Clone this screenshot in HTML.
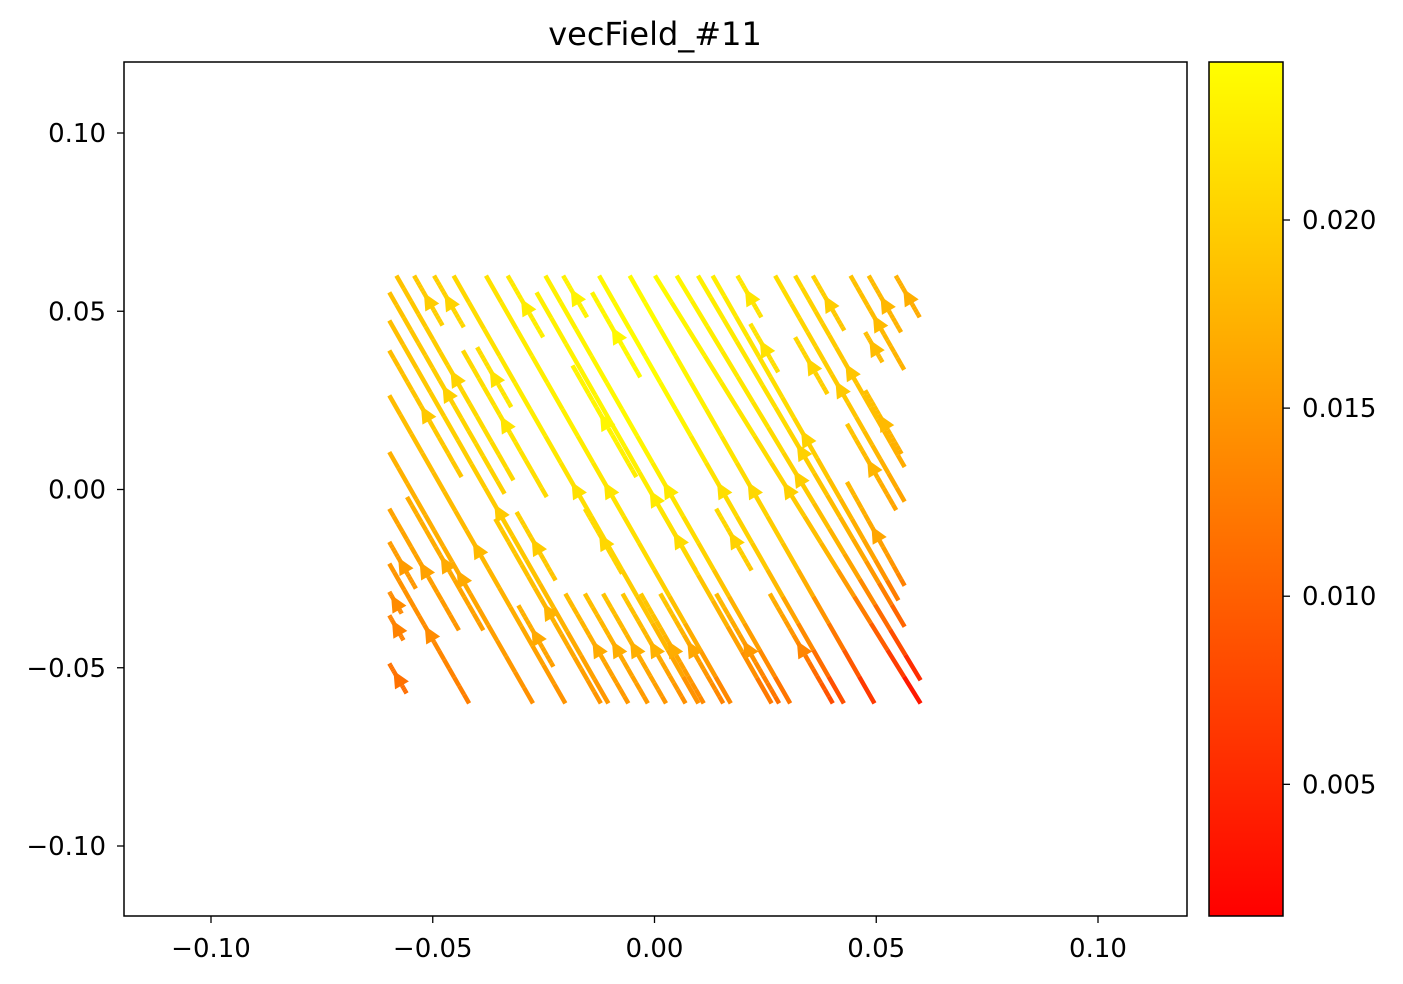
<!DOCTYPE html>
<html><head><meta charset="utf-8"><style>
body{margin:0;background:#fff;}
svg{display:block;font-family:"DejaVu Sans","Liberation Sans",sans-serif;}
</style></head><body>
<svg id="chart" width="1403" height="984" viewBox="0 0 1403 984">
<defs><linearGradient id="cbg" x1="0" y1="1" x2="0" y2="0"><stop offset="0" stop-color="#ff0000"/><stop offset="1" stop-color="#ffff00"/></linearGradient></defs>
<text x="655" y="45" font-size="32" text-anchor="middle">vecField_#11</text>
<g id="lines"></g>
<rect x="124" y="62" width="1063" height="854" fill="none" stroke="#000" stroke-width="1.5"/>
<g id="xaxis"></g>
<g id="yaxis"></g>
<rect x="1209" y="62" width="74" height="854" fill="url(#cbg)" stroke="#000" stroke-width="1.5"/>
<g id="cbaxis"></g>
</svg>
<script>
const xTicks=[-0.10,-0.05,0.00,0.05,0.10];
const xTickLabels=["−0.10","−0.05","0.00","0.05","0.10"];
const yTicks=[0.10,0.05,0.00,-0.05,-0.10];
const yTickLabels=["0.10","0.05","0.00","−0.05","−0.10"];
const cbTicks=[0.020,0.015,0.010,0.005];
const cbTickLabels=["0.020","0.015","0.010","0.005"];
const cbMin=0.0015, cbMax=0.0242;
const lineX0=[-0.0582,-0.0542,-0.0497,-0.0453,-0.0380,-0.0331,-0.0246,-0.0206,-0.0125,-0.0056,0.0001,0.0050,0.0098,0.0131,0.0187,0.0272,0.0317,0.0357,0.0442,0.0483,0.0544,
-0.0598,-0.0598,-0.0598,-0.0598,-0.0598,-0.0598,-0.0598,-0.0598,-0.0598,-0.0598,-0.0598,
-0.0432,-0.0400,-0.0266,-0.0141,-0.0185,0.0216,0.0317,0.0475,0.0475,0.0434,0.0434,-0.0558,-0.0359,-0.0311,-0.0157,0.0013,0.0139,-0.0307,-0.0201,-0.0157,-0.0116,-0.0072,-0.0031,0.0013,0.0139,0.0260];
const lineY0=[0.06,0.06,0.06,0.06,0.06,0.06,0.06,0.06,0.06,0.06,0.06,0.06,0.06,0.06,0.06,0.06,0.06,0.06,0.06,0.06,0.06,
0.0553,0.0474,0.0390,0.0264,0.0105,-0.0054,-0.0147,-0.0208,-0.0287,-0.0353,-0.0488,
0.0390,0.0399,0.0553,0.0553,0.0348,0.0465,0.0427,0.0441,0.0278,0.0184,0.0021,-0.0021,-0.0082,-0.0063,-0.0054,-0.0054,-0.0054,-0.0325,-0.0292,-0.0292,-0.0292,-0.0292,-0.0292,-0.0292,-0.0292,-0.0292];
const lineX1=[-0.0318,-0.0478,-0.0430,0.0099,0.0172,-0.0251,0.0306,-0.0152,0.0427,0.0496,0.0600,0.0600,0.0564,0.0550,0.0241,0.0564,0.0564,0.0428,0.0563,0.0556,0.0598,
-0.0338,-0.0104,-0.0435,-0.0201,-0.0274,-0.0441,-0.0538,-0.0418,-0.0570,-0.0566,-0.0559,
-0.0243,-0.0323,0.0264,-0.0032,-0.0041,0.0279,0.0390,0.0514,0.0557,0.0545,0.0564,-0.0386,-0.0121,-0.0223,-0.0073,0.0093,0.0219,-0.0228,-0.0059,-0.0015,0.0026,0.0070,0.0111,0.0155,0.0281,0.0402];
const lineY1=[0.0026,0.0460,0.0455,-0.06,-0.06,0.0427,-0.06,0.0483,-0.06,-0.06,-0.06,-0.0535,-0.0385,-0.0311,0.0483,-0.0034,0.0063,0.0446,0.0336,0.0441,0.0483,
-0.0012,-0.06,0.0035,-0.06,-0.06,-0.0395,-0.0278,-0.06,-0.0348,-0.0423,-0.0572,
-0.0021,0.0231,-0.06,0.0315,0.0035,0.0329,0.0268,0.0357,0.0100,-0.0058,-0.0270,-0.0395,-0.06,-0.0255,-0.0236,-0.0227,-0.0227,-0.0497,-0.06,-0.06,-0.06,-0.06,-0.06,-0.06,-0.06,-0.06];
const speedRow0=[0.0185,0.0225,0.024,0.021,0.0165];
const speedRow1=[0.018,0.0225,0.024,0.021,0.017];
const speedRow2=[0.015,0.019,0.021,0.019,0.014];
const speedRow3=[0.0105,0.014,0.015,0.011,0.002];
const gridX=[-0.06,-0.03,0,0.03,0.06], gridY=[0.06,0.02,-0.02,-0.06];

const NS='http://www.w3.org/2000/svg';
const X=v=>654.5+v*4435, Y=v=>489.5-v*3565, CB=v=>916-(v-cbMin)/(cbMax-cbMin)*854;
function mk(t,a,p){const e=document.createElementNS(NS,t);for(const k in a)e.setAttribute(k,a[k]);p.appendChild(e);return e;}
const rows=[speedRow0,speedRow1,speedRow2,speedRow3];
function speed(x,y){
  let i=0;while(i<gridX.length-2&&x>gridX[i+1])i++;
  let j=0;while(j<gridY.length-2&&y<gridY[j+1])j++;
  const tx=Math.min(1,Math.max(0,(x-gridX[i])/(gridX[i+1]-gridX[i])));
  const ty=Math.min(1,Math.max(0,(gridY[j]-y)/(gridY[j]-gridY[j+1])));
  const a=rows[j][i]*(1-tx)+rows[j][i+1]*tx, b=rows[j+1][i]*(1-tx)+rows[j+1][i+1]*tx;
  return a*(1-ty)+b*ty;
}
function col(s){const t=Math.min(1,Math.max(0,(s-cbMin)/(cbMax-cbMin)));return 'rgb(255,'+Math.round(255*t)+',0)';}
const lg=document.getElementById('lines');
for(let k=0;k<lineX0.length;k++){
  const g=mk('g',{},lg);
  
  
  const n=16;
  for(let s=0;s<n;s++){
    const xa=lineX0[k]+(lineX1[k]-lineX0[k])*s/n, ya=lineY0[k]+(lineY1[k]-lineY0[k])*s/n;
    const xb=lineX0[k]+(lineX1[k]-lineX0[k])*(s+1)/n, yb=lineY0[k]+(lineY1[k]-lineY0[k])*(s+1)/n;
    mk('line',{x1:X(xa),y1:Y(ya),x2:X(xb),y2:Y(yb),stroke:col(speed((xa+xb)/2,(ya+yb)/2)),'stroke-width':4.5,'stroke-linecap':'butt'},g);
  }
  const mx=(lineX0[k]+lineX1[k])/2, my=(lineY0[k]+lineY1[k])/2;
  const px=X(mx),py=Y(my);
  let dx=X(lineX0[k])-X(lineX1[k]), dy=Y(lineY0[k])-Y(lineY1[k]);const L=Math.hypot(dx,dy)||1;dx/=L;dy/=L;
  const tipx=px+dx*9,tipy=py+dy*9,bx=px-dx*8,by=py-dy*8;
  const ar=mk('polygon',{points:tipx+','+tipy+' '+(bx-dy*8)+','+(by+dx*8)+' '+(bx+dy*8)+','+(by-dx*8),fill:col(speed(mx,my))},g);
  
  
}
const xa=document.getElementById('xaxis');
xTicks.forEach((v,i)=>{
  const l=mk('line',{x1:X(v),y1:916,x2:X(v),y2:923,stroke:'#000','stroke-width':1.3},xa);
  
  
  const t=mk('text',{x:X(v),y:957,'font-size':26,'text-anchor':'middle'},xa);t.textContent=xTickLabels[i];
  
  
});
const ya=document.getElementById('yaxis');
yTicks.forEach((v,i)=>{
  const l=mk('line',{x1:117,y1:Y(v),x2:124,y2:Y(v),stroke:'#000','stroke-width':1.3},ya);
  
  
  const t=mk('text',{x:106,y:Y(v)+9,'font-size':26,'text-anchor':'end'},ya);t.textContent=yTickLabels[i];
  
  
});
const ca=document.getElementById('cbaxis');
cbTicks.forEach((v,i)=>{
  const l=mk('line',{x1:1283,y1:CB(v),x2:1290,y2:CB(v),stroke:'#000','stroke-width':1.3},ca);
  
  
  const t=mk('text',{x:1302,y:CB(v)+9,'font-size':26},ca);t.textContent=cbTickLabels[i];
  
  
});
</script>
</body></html>
